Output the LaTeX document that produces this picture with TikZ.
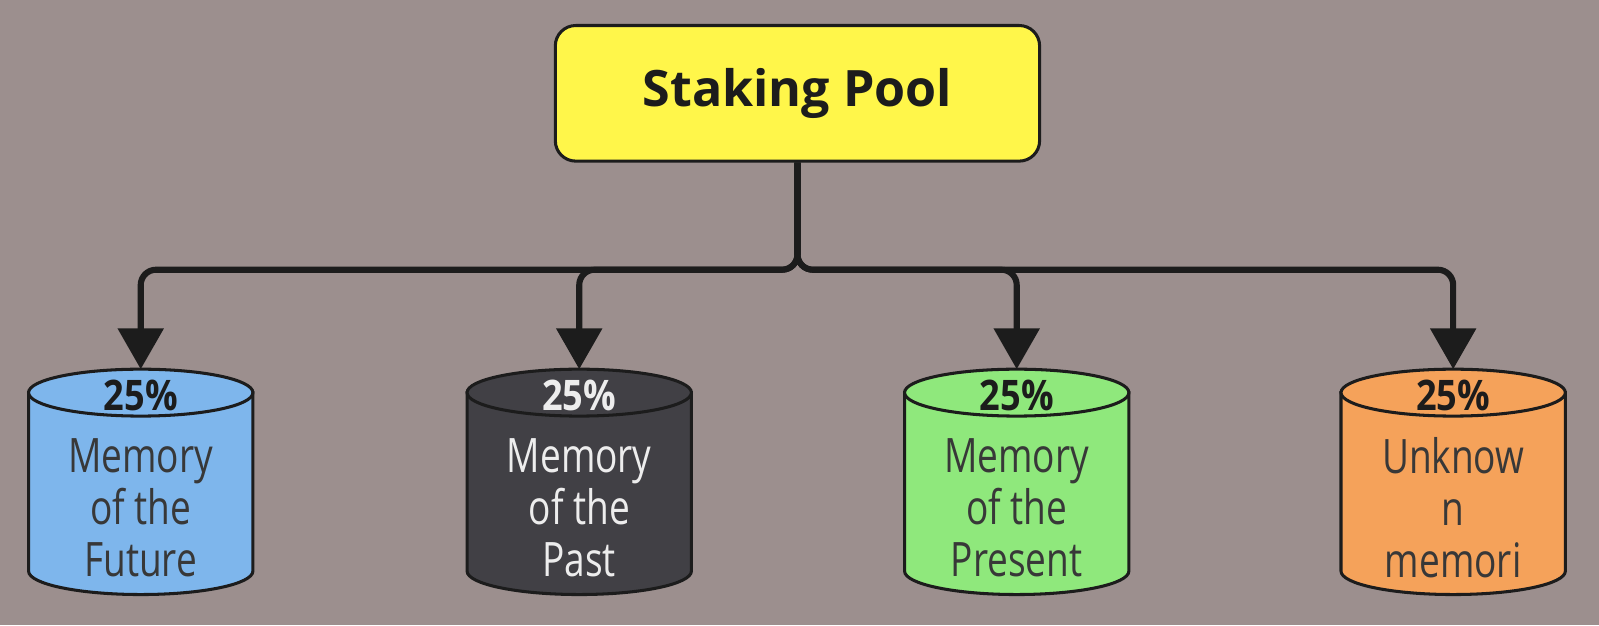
\documentclass[tikz,border=0pt]{standalone}
\usepackage{fontspec}
\setmainfont{Open Sans}
\newfontfamily\narrowfont{Open Sans}[FakeStretch=0.78]
\newfontfamily\pctfont{Open Sans}[FakeStretch=0.86]
\usepackage{tikz}
\usetikzlibrary{arrows.meta}
\usetikzlibrary{positioning}

\definecolor{bgcol}{HTML}{9C8F8E}
\definecolor{inkcol}{HTML}{1C1C1C}
\definecolor{poolcol}{HTML}{FFF64A}
\definecolor{futurecol}{HTML}{7EB6EC}
\definecolor{pastcol}{HTML}{414045}
\definecolor{presentcol}{HTML}{8FE87C}
\definecolor{unknowncol}{HTML}{F5A25A}
\definecolor{textcol}{HTML}{383838}
\definecolor{lightcol}{HTML}{EDEDED}

\tikzset{
  poolbox/.style={draw=inkcol,line width=1.7pt,fill=poolcol,rounded corners=0.4cm,
    minimum width=9.5cm,minimum height=2.66cm,text=inkcol,font=\fontsize{28}{32}\selectfont\bfseries},
  cylline/.style={draw=inkcol,line width=1.7pt},
  pctlabel/.style={text=inkcol,font=\fontsize{23.5}{26}\selectfont\bfseries\pctfont},
  memlabel/.style={text=textcol,align=center,font=\fontsize{26.5}{28.9}\selectfont\narrowfont},
  conn/.style={draw=inkcol,line width=3.4pt,rounded corners=0.3cm,
    -{Triangle[width=0.88cm,length=0.8cm]}},
}

\begin{document}
\begin{tikzpicture}[x=0.02cm,y=-0.02cm]
    \fill [bgcol] (0,0) rectangle (1568,613);
    \useasboundingbox (0,0) rectangle (1568,613);

    \node [poolbox] (pool) at (782,91.5) {Staking Pool};

    % cylinders
    \filldraw [cylline,fill=futurecol] (28,385) -- (28,560) arc [start angle=180,end angle=0,x radius=110,y radius=23] -- (248,385) -- cycle;
    \filldraw [cylline,fill=futurecol] (138,385) ellipse [x radius=110,y radius=23];
    \filldraw [cylline,fill=pastcol] (458,385) -- (458,560) arc [start angle=180,end angle=0,x radius=110,y radius=23] -- (678,385) -- cycle;
    \filldraw [cylline,fill=pastcol] (568,385) ellipse [x radius=110,y radius=23];
    \filldraw [cylline,fill=presentcol] (887,385) -- (887,560) arc [start angle=180,end angle=0,x radius=110,y radius=23] -- (1107,385) -- cycle;
    \filldraw [cylline,fill=presentcol] (997,385) ellipse [x radius=110,y radius=23];
    \filldraw [cylline,fill=unknowncol] (1315,385) -- (1315,560) arc [start angle=180,end angle=0,x radius=110,y radius=23] -- (1535,385) -- cycle;
    \filldraw [cylline,fill=unknowncol] (1425,385) ellipse [x radius=110,y radius=23];

    \coordinate (future) at (138,362);
    \coordinate (past) at (568,362);
    \coordinate (present) at (997,362);
    \coordinate (unknown) at (1425,362);

    \node [pctlabel] (futurepct) at (138,388) {25\%};
    \node [pctlabel,text=lightcol] (pastpct) at (568,388) {25\%};
    \node [pctlabel] (presentpct) at (997,388) {25\%};
    \node [pctlabel] (unknownpct) at (1425,388) {25\%};

    \node [memlabel] (futuretext) at (138,498) {Memory\\of the\\Future};
    \node [memlabel,text=lightcol] (pasttext) at (568,498) {Memory\\of the\\Past};
    \node [memlabel] (presenttext) at (997,498) {Memory\\of the\\Present};
    \node [memlabel] (unknowntext) at (1425,498) {Unknow\\n\\memori};

    % connectors
    \draw [conn] (pool.south) -- ++(0,105) -| (future);
    \draw [conn] (pool.south) -- ++(0,105) -| (past);
    \draw [conn] (pool.south) -- ++(0,105) -| (present);
    \draw [conn] (pool.south) -- ++(0,105) -| (unknown);
\end{tikzpicture}
\end{document}
